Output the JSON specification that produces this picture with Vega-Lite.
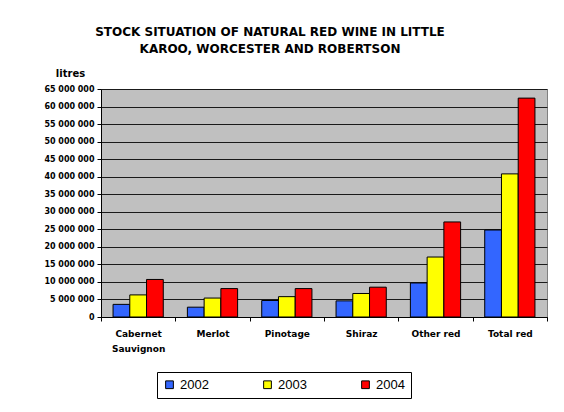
{
  "$schema": "https://vega.github.io/schema/vega-lite/v6.json",
  "width": 446,
  "height": 228,
  "autosize": {"type": "none"},
  "padding": {"left": 101, "top": 89, "right": 17, "bottom": 95},
  "background": "white",
  "title": {
    "text": ["STOCK SITUATION OF NATURAL RED WINE IN LITTLE", "KAROO, WORCESTER AND ROBERTSON"],
    "anchor": "middle",
    "frame": "group",
    "dx": -54,
    "offset": 12,
    "font": "DejaVu Sans",
    "fontSize": 12,
    "fontWeight": "bold",
    "lineHeight": 17,
    "color": "black"
  },
  "data": {
    "values": [
      {"variety": "Cabernet Sauvignon", "year": "2002", "litres": 3600000},
      {"variety": "Cabernet Sauvignon", "year": "2003", "litres": 6300000},
      {"variety": "Cabernet Sauvignon", "year": "2004", "litres": 10700000},
      {"variety": "Merlot", "year": "2002", "litres": 2800000},
      {"variety": "Merlot", "year": "2003", "litres": 5400000},
      {"variety": "Merlot", "year": "2004", "litres": 8100000},
      {"variety": "Pinotage", "year": "2002", "litres": 4700000},
      {"variety": "Pinotage", "year": "2003", "litres": 5800000},
      {"variety": "Pinotage", "year": "2004", "litres": 8100000},
      {"variety": "Shiraz", "year": "2002", "litres": 4600000},
      {"variety": "Shiraz", "year": "2003", "litres": 6700000},
      {"variety": "Shiraz", "year": "2004", "litres": 8500000},
      {"variety": "Other red", "year": "2002", "litres": 9700000},
      {"variety": "Other red", "year": "2003", "litres": 17100000},
      {"variety": "Other red", "year": "2004", "litres": 27100000},
      {"variety": "Total red", "year": "2002", "litres": 24800000},
      {"variety": "Total red", "year": "2003", "litres": 40800000},
      {"variety": "Total red", "year": "2004", "litres": 62400000}
    ]
  },
  "mark": {"type": "bar", "stroke": "black", "strokeWidth": 1},
  "encoding": {
    "x": {
      "field": "variety",
      "type": "nominal",
      "sort": null,
      "scale": {"paddingInner": 0, "paddingOuter": 0},
      "axis": {
        "title": null,
        "labelAngle": 0,
        "tickBand": "extent",
        "tickSize": 4,
        "tickColor": "black",
        "domainColor": "black",
        "labelPadding": 8,
        "labelLineHeight": 15,
        "labelBaseline": "top",
        "labelExpr": "datum.label == 'Cabernet Sauvignon' ? ['Cabernet', 'Sauvignon'] : datum.label",
        "labelFont": "DejaVu Sans",
        "labelFontSize": 9,
        "labelFontWeight": "bold",
        "labelColor": "black",
        "grid": false
      }
    },
    "xOffset": {"field": "year", "type": "nominal", "scale": {"paddingInner": 0, "paddingOuter": 0.72}},
    "y": {
      "field": "litres",
      "type": "quantitative",
      "scale": {"domain": [0, 65000000], "nice": false},
      "axis": {
        "values": [0, 5000000, 10000000, 15000000, 20000000, 25000000, 30000000, 35000000, 40000000, 45000000, 50000000, 55000000, 60000000, 65000000],
        "labelExpr": "replace(format(datum.value, ','), /,/g, ' ')",
        "title": "litres",
        "titleAngle": 0,
        "titleAlign": "center",
        "titleBaseline": "bottom",
        "titleX": -31,
        "titleY": -11,
        "titleFont": "DejaVu Sans",
        "titleFontSize": 10,
        "titleFontWeight": "bold",
        "titleColor": "black",
        "labelFont": "DejaVu Sans",
        "labelFontSize": 8,
        "labelFontWeight": "bold",
        "labelColor": "black",
        "labelPadding": 3,
        "tickSize": 4,
        "tickColor": "black",
        "domainColor": "black",
        "grid": true,
        "gridColor": "#1a1a1a",
        "gridWidth": 1.2
      }
    },
    "color": {
      "field": "year",
      "type": "nominal",
      "scale": {"domain": ["2002", "2003", "2004"], "range": ["#3366ff", "#ffff00", "#ff0000"]},
      "legend": {
        "title": null,
        "orient": "none",
        "legendX": 56,
        "legendY": 283,
        "direction": "horizontal",
        "columns": 3,
        "columnPadding": 52,
        "symbolType": "square",
        "symbolSize": 60,
        "symbolStrokeColor": "black",
        "symbolStrokeWidth": 1,
        "symbolOpacity": 1,
        "labelFont": "Liberation Sans",
        "labelFontSize": 13,
        "labelColor": "black",
        "labelOffset": 4,
        "strokeColor": "black",
        "fillColor": "white",
        "padding": 6,
        "offset": 0
      }
    }
  },
  "config": {
    "view": {"fill": "#c0c0c0", "stroke": "#808080", "strokeWidth": 1}
  }
}
